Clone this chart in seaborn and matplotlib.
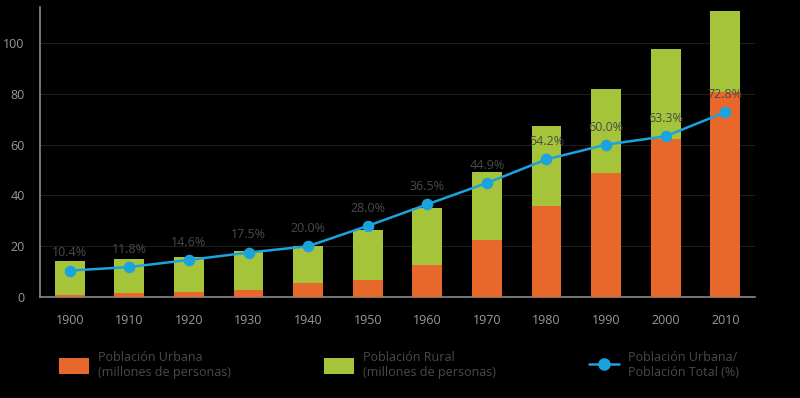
import matplotlib
matplotlib.use('Agg')
import matplotlib.pyplot as plt
import seaborn as sns
import pandas as pd
from matplotlib.patches import Patch
from matplotlib.lines import Line2D

# values
years = ['1900', '1910', '1920', '1930', '1940', '1950',
         '1960', '1970', '1980', '1990', '2000', '2010']
total_pop = [14.2, 15.0, 15.6, 18.0, 20.2, 26.3, 35.2, 49.3, 67.3, 82.1, 97.5, 112.6]
urban_pop = [0.6, 1.6, 1.9, 2.6, 5.4, 6.7, 12.6, 22.4, 35.9, 48.9, 62.1, 80.8]
urban_pct = [10.4, 11.8, 14.6, 17.5, 20.0, 28.0, 36.5, 44.9, 54.2, 60.0, 63.3, 72.8]
pct_labels = ['10.4%', '11.8%', '14.6%', '17.5%', '20.0%', '28.0%',
              '36.5%', '44.9%', '54.2%', '60.0%', '63.3%', '72.8%']

orange = '#e8672a'
green = '#a6c43a'
blue = '#1aa3dc'
tick_col = '#9a9a9a'
text_col = '#4a4a4a'

df = pd.DataFrame({'year': years, 'total': total_pop, 'urban': urban_pop, 'pct': urban_pct})

sns.set_style('dark')
plt.rcParams['font.family'] = ['Open Sans', 'DejaVu Sans']

fig = plt.figure(figsize=(8, 3.98), dpi=100, facecolor='black')
ax = fig.add_axes([40 / 800, 1 - 297 / 398, 715 / 800, 290 / 398])
ax.set_facecolor('black')

# stacked bars: the total (green) first, urban (orange) drawn over it
sns.barplot(data=df, x='year', y='total', color=green, width=0.5,
            saturation=1, linewidth=0, edgecolor='none', ax=ax, zorder=2)
sns.barplot(data=df, x='year', y='urban', color=orange, width=0.5,
            saturation=1, linewidth=0, edgecolor='none', ax=ax, zorder=3)
sns.pointplot(data=df, x='year', y='pct', color=blue, markers='o',
              markersize=7, linewidth=1.8, ax=ax, zorder=5)

for i, lab in enumerate(pct_labels):
    ax.annotate(lab, (i, urban_pct[i]), xytext=(0, 8), textcoords='offset points',
                ha='center', va='bottom', fontsize=9, color=text_col, zorder=6)

ax.set_xlim(-0.5, 11.5)
ax.set_ylim(0, 114.2)
ax.set_yticks([0, 20, 40, 60, 80, 100])
ax.set_xlabel('')
ax.set_ylabel('')

ax.grid(axis='y', color='#1c1c1c', linewidth=0.8, zorder=0)
ax.grid(axis='x', visible=False)

for s in ['top', 'right']:
    ax.spines[s].set_visible(False)
for s in ['left', 'bottom']:
    ax.spines[s].set_visible(True)
    ax.spines[s].set_color('#8a8a8a')
    ax.spines[s].set_linewidth(1.2)

ax.set_xticks([x - 0.5 for x in range(13)], minor=True)
ax.tick_params(axis='x', which='major', length=0, pad=12, labelsize=9, colors=tick_col)
ax.tick_params(axis='x', which='minor', length=6, width=1.2, color='#8a8a8a', direction='out')
ax.tick_params(axis='y', length=7, width=1.2, color='#8a8a8a', pad=4,
               labelsize=9, labelcolor=tick_col, direction='out')

h1 = [Patch(facecolor=orange, edgecolor='none')]
h2 = [Patch(facecolor=green, edgecolor='none')]
h3 = [Line2D([0], [0], color=blue, marker='o', markersize=8, linewidth=1.8)]
legs = [(h1, 'Población Urbana\n(millones de personas)', 54),
        (h2, 'Población Rural\n(millones de personas)', 319),
        (h3, 'Población Urbana/\nPoblación Total (%)', 584)]
for h, lab, xpx in legs:
    fig.legend(h, [lab], loc='upper left', bbox_to_anchor=(xpx / 800, 1 - 346 / 398),
               frameon=False, fontsize=9, labelcolor=text_col, handlelength=2.4,
               handleheight=1.5, handletextpad=0.7, borderaxespad=0)

fig.savefig('out.png', dpi=100, facecolor='black')
